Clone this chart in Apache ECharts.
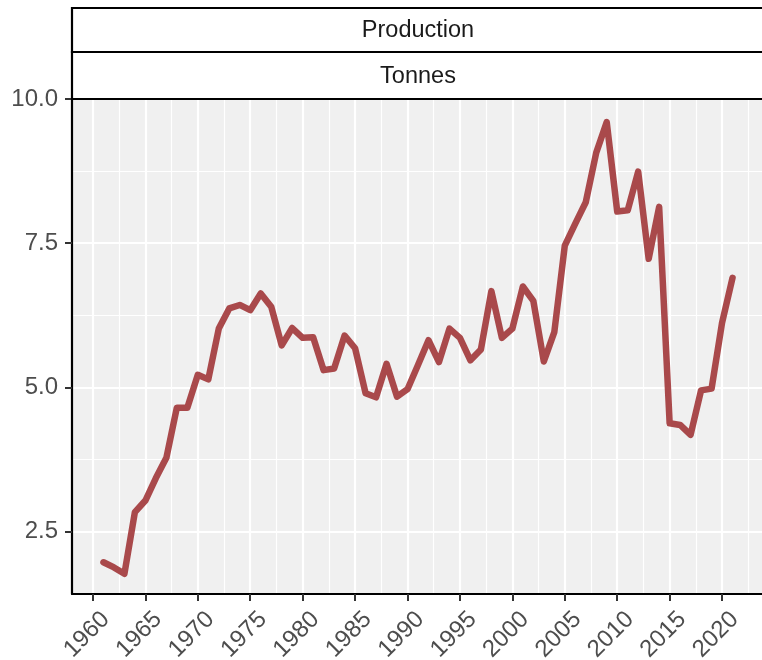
<!DOCTYPE html>
<html>
<head>
<meta charset="utf-8">
<script src="https://cdn.jsdelivr.net/npm/echarts@6/dist/echarts.min.js"></script>
<style>html,body{margin:0;padding:0;background:#fff;}#c{width:762px;height:660px;}</style>
</head>
<body>
<div id="c"></div>
<script>
const years = [1961,1962,1963,1964,1965,1966,1967,1968,1969,1970,1971,1972,1973,1974,1975,1976,1977,1978,1979,1980,1981,1982,1983,1984,1985,1986,1987,1988,1989,1990,1991,1992,1993,1994,1995,1996,1997,1998,1999,2000,2001,2002,2003,2004,2005,2006,2007,2008,2009,2010,2011,2012,2013,2014,2015,2016,2017,2018,2019,2020,2021];
const production = [1.97,1.88,1.77,2.84,3.04,3.43,3.78,4.65,4.65,5.22,5.14,6.02,6.37,6.43,6.34,6.63,6.40,5.73,6.03,5.86,5.87,5.30,5.33,5.90,5.68,4.90,4.83,5.41,4.84,4.97,5.39,5.82,5.44,6.02,5.86,5.47,5.66,6.67,5.86,6.02,6.75,6.50,5.45,5.96,7.46,7.84,8.21,9.07,9.60,8.05,8.07,8.74,7.23,8.13,4.38,4.35,4.18,4.95,4.98,6.12,6.90];
const xTicks = [1960,1965,1970,1975,1980,1985,1990,1995,2000,2005,2010,2015,2020];
const xMinor = [1962.5,1967.5,1972.5,1977.5,1982.5,1987.5,1992.5,1997.5,2002.5,2007.5,2012.5,2017.5,2022.5];
const yTicks = [2.5,5.0,7.5,10.0];
const yMinor = [3.75,6.25,8.75];
const stripTitles = ['Production','Tonnes'];

const chart = echarts.init(document.getElementById('c'), null, {renderer:'canvas'});
const font = 'Liberation Sans, Arial, Helvetica, sans-serif';
const PL = 72, PT = 99, PB = 66;

function gl(vals, axis, width){
  return {
    type:'line', data:[], silent:true, z:1,
    markLine:{silent:true, z:1, symbol:'none', animation:false, label:{show:false},
      lineStyle:{color:'#ffffff', width:width, type:'solid'},
      emphasis:{disabled:true},
      data: vals.map(v=>({[axis]:v}))}
  };
}

chart.setOption({
  animation:false,
  grid:{left:PL, top:PT, right:-2, bottom:PB, show:true, backgroundColor:'#f0f0f0', borderWidth:0,
        containLabel:false, outerBoundsMode:'none'},
  xAxis:{type:'value', min:1958, max:2024, z:6,
    axisLine:{show:true, onZero:false, lineStyle:{color:'#000', width:2.2}},
    axisTick:{show:true, customValues:xTicks, length:7, lineStyle:{color:'#333', width:2}},
    axisLabel:{customValues:xTicks, rotate:45, margin:9, align:'right', verticalAlign:'top', padding:[6,0,0,0],
      color:'#4d4d4d', fontSize:24, fontFamily:font, formatter:v=>String(v)},
    splitLine:{show:false}},
  yAxis:{type:'value', min:1.42, max:10, z:6,
    axisLine:{show:true, onZero:false, lineStyle:{color:'#000', width:2.2}},
    axisTick:{show:true, customValues:yTicks, length:7, lineStyle:{color:'#333', width:2}},
    axisLabel:{customValues:yTicks, margin:14, color:'#4d4d4d', fontSize:24, fontFamily:font, formatter:v=>v.toFixed(1)},
    splitLine:{show:false}},
  graphic:[
    {type:'rect', shape:{x:PL, y:8, width:700, height:44}, style:{fill:'#fff', stroke:'#000', lineWidth:2.2}, z:10},
    {type:'rect', shape:{x:PL, y:52, width:700, height:47}, style:{fill:'#fff', stroke:'#000', lineWidth:2.2}, z:10},
    {type:'text', x:418, y:31, style:{text:stripTitles[0], fill:'#1a1a1a', font:'23.5px '+font, textAlign:'center', textVerticalAlign:'middle'}, z:11},
    {type:'text', x:418, y:77, style:{text:stripTitles[1], fill:'#1a1a1a', font:'23.5px '+font, textAlign:'center', textVerticalAlign:'middle'}, z:11}
  ],
  series:[
    gl(yMinor,'yAxis',1.2),
    gl(xMinor,'xAxis',1.2),
    gl(yTicks,'yAxis',2.2),
    gl(xTicks,'xAxis',2.2),
    {type:'line', z:5, data: years.map((y,i)=>[y, production[i]]), showSymbol:false, symbol:'none',
     lineStyle:{color:'rgba(164,60,62,0.93)', width:6.5, cap:'round', join:'round'}}
  ]
});
</script>
</body>
</html>
